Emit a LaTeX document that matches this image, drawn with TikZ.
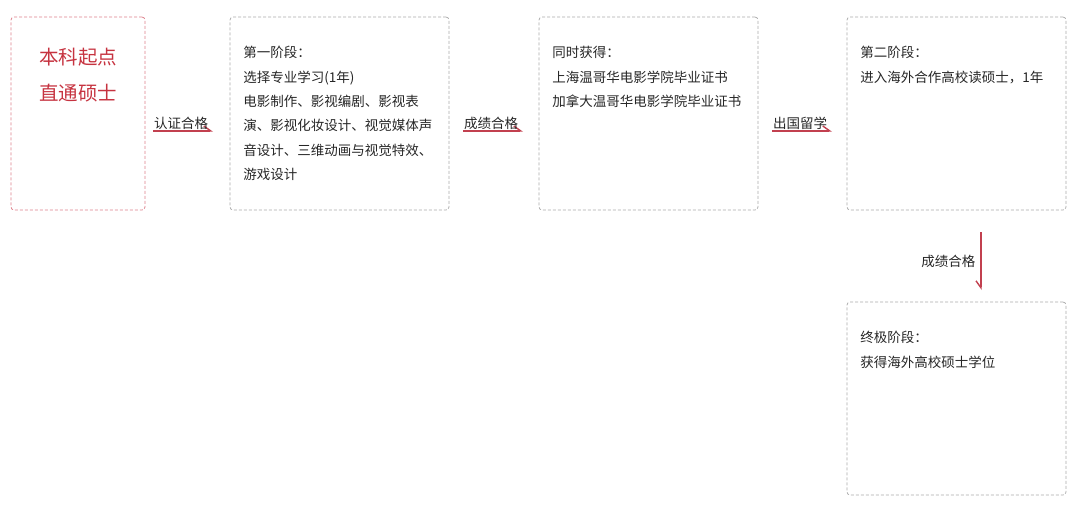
\documentclass[tikz,border=0pt]{standalone}
\usepackage{fontspec}
\setmainfont{Noto Sans CJK SC}
\newfontfamily\cjk{Noto Sans CJK SC}
\usepackage{tikz}
\usetikzlibrary{positioning}
\usetikzlibrary{arrows.meta}

\definecolor{titlered}{HTML}{C63340}
\definecolor{arrowred}{HTML}{C2404F}
\definecolor{boxgray}{HTML}{ABABAB}
\definecolor{boxpink}{HTML}{DD7F8A}
\definecolor{textgray}{HTML}{262626}

\begin{document}
\begin{tikzpicture}[
            x = 1pt, y = -1pt, % pixel grid of the reference
            >/.tip = {Straight Barb[left, length=7pt, width=10pt]}, % half arrow head
            node distance = 85pt,
            semithick
        ]

        \tikzstyle{stage}=[
            draw = boxgray,
            dash pattern = on 3pt off 2pt,
            line width = 0.75pt,
            rounded corners = 3pt,
            minimum width = 219pt,
            minimum height = 193pt,
            inner sep = 0pt,
            outer sep = 0pt
        ]
        \tikzstyle{startbox}=[stage, draw = boxpink, minimum width = 134pt]
        \tikzstyle{txt}=[
            anchor = north west,
            inner sep = 0pt,
            align = left,
            text = textgray,
            font = \cjk\fontsize{13.5pt}{24.4pt}\selectfont
        ]
        \tikzstyle{lbl}=[inner sep = 1pt, text = textgray, font = \cjk\fontsize{13.5pt}{16pt}\selectfont]
        \tikzstyle{flow}=[->, draw = arrowred, line width = 1.4pt]

        \useasboundingbox (0,0) rectangle (1080,509);

	% STAGE BOXES
        \node[startbox] (B1) at (78,113.5) {};
        \node[stage] (B2) [right = 85pt of B1] {};
        \node[stage] (B3) [right = 90pt of B2] {};
        \node[stage] (B4) [right = 89pt of B3] {};
        \node[stage] (B5) [below = 92pt of B4] {};

	% TEXTS
        \node[align = center, inner sep = 0pt, text = titlered,
              font = \cjk\fontsize{19.5pt}{36pt}\selectfont] (T1) at (78,75) {本科起点\\直通硕士};
        \node[txt] (T2) at ([xshift=13pt, yshift=-29pt]B2.north west)
            {第一阶段：\\选择专业学习(1年)\\电影制作、影视编剧、影视表\\演、影视化妆设计、视觉媒体声\\音设计、三维动画与视觉特效、\\游戏设计};
        \node[txt] (T3) at ([xshift=13pt, yshift=-29pt]B3.north west)
            {同时获得：\\上海温哥华电影学院毕业证书\\加拿大温哥华电影学院毕业证书};
        \node[txt] (T4) at ([xshift=13pt, yshift=-29pt]B4.north west)
            {第二阶段：\\进入海外合作高校读硕士，1年};
        \node[txt] (T5) at ([xshift=13pt, yshift=-29pt]B5.north west)
            {终极阶段：\\获得海外高校硕士学位};

	% CONNECTORS
        \coordinate (A1s) at (153,131);
        \coordinate (A1e) at (213,131);
        \coordinate (A2s) at (463,131);
        \coordinate (A2e) at (523,131);
        \coordinate (A3s) at (772,131);
        \coordinate (A3e) at (832,131);
        \coordinate (A4s) at (981,232);
        \coordinate (A4e) at (981,290);

        \draw[flow] (A1s) -- node[lbl, above, xshift=-2pt] (L1) {认证合格} (A1e);
        \draw[flow] (A2s) -- node[lbl, above, xshift=-2pt] (L2) {成绩合格} (A2e);
        \draw[flow] (A3s) -- node[lbl, above, xshift=-2pt] (L3) {出国留学} (A3e);
        \draw[flow, >={Straight Barb[right, length=7pt, width=10pt]}] (A4s) -- node[lbl, left, inner sep=5pt] (L4) {成绩合格} (A4e);

  \end{tikzpicture}
\end{document}
